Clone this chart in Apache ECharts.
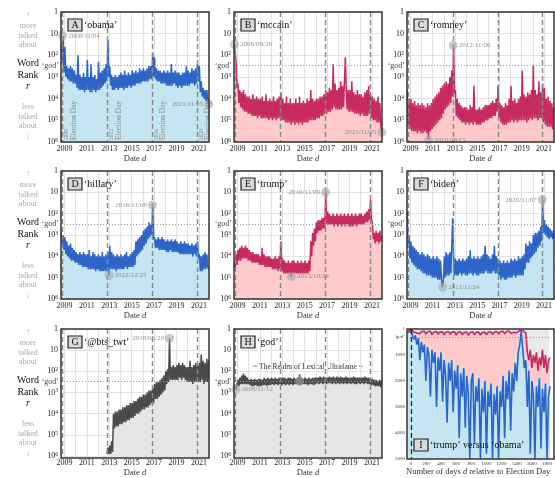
<!DOCTYPE html>
<html><head><meta charset="utf-8">
<script src="https://cdn.jsdelivr.net/npm/echarts@6/dist/echarts.min.js"></script>
<style>html,body{margin:0;padding:0;background:#fff}#c{width:555px;height:478px}</style>
</head><body><div id="c"></div>
<script>
// ---------------- DATA ----------------
// monthly samples, Sep 2008 .. Nov 2021 (159 months); values are log10(word rank)
const START_YEAR = 2008, START_MONTH = 9, N_MONTHS = 159;
const gridYears = [2009,2010,2011,2012,2013,2014,2015,2016,2017,2018,2019,2020,2021];
const yearLabels = [2009,2011,2013,2015,2017,2019,2021];
const electionDays = [2008.843, 2012.849, 2016.855, 2020.842];
const electionLabels = ['2008','2012','2016','2020'];
const GOD_RANK = 300;

const obamaLog = [
 1.5,2.4,1.1,2.8,
 1.6,3.0,2.5,3.1,2.6,3.2,2.5,3.2,2.6,3.3,2.7,3.3,
 2.9,3.5,2.0,3.6,2.9,3.6,3.0,3.6,2.8,3.7,3.0,3.6,
 2.2,3.6,3.0,3.7,2.4,3.7,3.0,3.6,2.9,3.7,3.1,3.6,
 2.3,3.6,2.8,3.5,2.7,3.4,2.6,3.3,2.4,3.2,1.3,3.0,
 2.5,3.4,2.9,3.6,3.0,3.6,2.9,3.5,3.0,3.6,2.9,3.5,
 2.8,3.5,2.9,3.6,2.7,3.5,2.9,3.5,2.8,3.4,2.9,3.5,
 2.7,3.4,2.8,3.4,2.7,3.3,2.8,3.3,2.6,3.3,2.7,3.2,
 2.6,3.2,2.7,3.2,2.6,3.2,2.5,3.1,2.5,3.1,1.9,3.0,
 2.1,3.1,2.6,3.2,2.7,3.2,2.7,3.3,2.8,3.3,2.7,3.3,
 2.8,3.4,2.7,3.4,2.8,3.4,2.4,3.4,2.8,3.3,2.7,3.4,
 2.8,3.5,2.8,3.4,2.9,3.5,2.8,3.4,2.8,3.4,2.5,3.4,
 2.7,3.4,2.8,3.3,2.6,3.3,2.7,3.4,2.6,3.3,2.4,3.2,
 2.5,3.7,3.2,3.9,3.5,4.0,3.6,4.1,3.6,4.1,4.25];
const mccainLog = [
 1.5,1.9,2.3,3.5,
 3.3,4.2,3.6,4.4,3.7,4.5,3.6,4.6,3.8,4.6,3.9,4.7,
 3.9,4.7,4.0,4.8,3.8,4.8,4.0,4.8,3.9,4.9,4.0,4.8,
 4.0,4.9,3.9,4.9,4.1,4.9,3.8,4.9,4.1,5.0,4.0,4.9,
 4.1,5.0,3.9,4.9,4.1,5.0,4.0,4.9,3.9,4.9,3.7,5.0,
 4.0,5.0,4.2,5.1,3.9,5.1,4.2,5.1,4.0,5.2,4.2,5.1,
 4.2,5.2,4.0,5.1,4.2,5.2,3.9,5.1,4.2,5.2,4.1,5.1,
 4.2,5.1,4.0,5.1,4.1,5.0,3.6,5.0,4.0,5.0,4.1,5.0,
 4.0,4.9,4.0,4.9,3.9,4.8,3.9,4.8,3.8,4.7,3.6,4.7,
 3.7,4.6,3.5,4.6,3.6,4.5,2.4,4.4,3.3,4.5,3.6,4.5,
 3.5,4.5,3.2,4.5,3.4,4.4,3.3,2.1,3.5,4.5,3.6,4.6,
 3.6,4.6,3.2,4.6,3.7,4.7,3.8,4.7,3.6,4.7,3.8,4.8,
 3.8,4.7,3.9,4.8,3.7,4.8,3.6,4.8,3.4,4.7,3.8,4.9,
 3.9,5.0,4.0,5.0,4.1,5.1,3.9,5.1,4.2,5.2,5.55];
const romneyLog = [
 3.6,5.3,4.0,5.4,
 4.0,5.5,4.2,5.5,4.1,5.5,4.3,5.6,4.2,5.5,4.3,5.6,
 4.2,5.6,4.3,5.5,4.4,5.6,4.2,5.9,4.3,5.5,4.2,5.4,
 4.0,5.3,3.9,5.2,3.8,5.1,3.7,5.0,3.5,4.9,3.4,4.7,
 3.3,4.5,3.2,4.4,3.3,4.3,3.0,4.2,2.7,3.9,1.55,3.8,
 3.6,4.8,4.0,4.9,4.2,5.0,4.3,5.1,4.4,5.1,4.4,5.2,
 4.4,5.1,4.5,5.2,4.3,5.1,4.4,5.2,3.4,5.1,4.5,5.2,
 4.5,5.2,4.4,5.2,4.5,5.1,4.4,5.1,4.3,5.0,4.3,5.0,
 4.3,4.9,4.2,4.9,4.1,4.8,4.2,4.8,4.0,4.6,3.4,4.9,
 4.2,5.1,4.3,5.2,4.4,5.2,4.2,5.2,4.3,5.1,4.0,5.1,
 3.4,5.0,4.1,5.1,4.0,5.0,4.2,5.1,4.0,5.0,3.9,5.0,
 2.7,5.0,3.8,5.0,3.9,5.1,3.7,5.0,3.8,4.9,3.6,5.0,
 2.45,4.9,3.6,4.9,3.8,5.0,3.2,4.9,3.7,4.9,3.3,5.1,
 3.5,5.2,4.0,5.3,3.9,5.3,4.1,5.3,4.2,5.4,4.4];
const hillaryLog = [
 2.9,3.5,3.0,3.7,
 3.1,3.9,3.3,4.0,3.5,4.1,3.4,4.2,3.6,4.2,3.7,4.3,
 3.8,4.3,3.9,4.4,3.8,4.4,3.9,4.5,3.8,4.5,3.9,4.5,
 3.9,4.6,3.7,4.6,4.0,4.6,3.8,4.6,3.9,4.7,4.0,4.6,
 3.9,4.7,4.0,4.7,3.8,4.7,4.0,4.7,3.9,4.7,3.8,4.9,
 3.5,4.6,3.8,4.6,3.9,4.6,4.0,4.7,3.9,4.6,4.0,4.6,
 3.9,4.6,4.0,4.6,3.9,4.5,3.8,4.6,4.0,4.5,3.9,4.5,
 3.8,4.5,3.7,4.4,3.3,4.0,3.2,3.9,3.1,3.8,3.0,3.7,
 2.8,3.5,2.7,3.4,2.6,3.2,2.4,3.1,2.5,3.0,1.6,3.2,
 3.1,3.6,3.2,3.6,3.1,3.7,3.2,3.7,3.1,3.7,3.2,3.7,
 3.3,3.8,3.2,3.8,3.3,3.7,3.2,3.8,3.3,3.8,3.2,3.8,
 3.3,3.8,3.4,3.9,3.3,3.9,3.4,3.9,3.3,3.9,3.4,3.9,
 3.4,3.9,3.5,3.9,3.4,4.0,3.5,3.9,3.4,4.0,3.3,4.1,
 3.9,4.7,4.0,4.7,3.9,4.6,3.8,4.6,3.9,4.5,4.6];
const trumpLog = [
 4.3,4.5,3.9,4.4,
 3.7,4.2,3.6,4.2,3.5,4.1,3.6,4.1,3.5,4.1,3.6,4.2,
 3.7,4.2,3.8,4.3,3.8,4.3,3.9,4.3,3.9,4.3,3.9,4.4,
 4.0,4.4,3.6,4.4,3.9,4.5,4.0,4.5,4.0,4.5,4.0,4.5,
 4.1,4.6,4.1,4.6,4.0,4.6,4.1,4.7,4.0,4.6,3.3,4.7,
 4.1,4.8,4.2,4.8,4.3,4.8,4.2,4.8,4.3,4.95,4.2,4.8,
 4.2,4.8,4.3,4.8,4.2,4.8,4.3,4.8,4.2,4.8,4.3,4.8,
 4.2,4.8,4.3,4.8,4.2,4.7,3.3,4.0,2.9,3.5,2.7,3.3,
 2.4,2.9,2.3,2.8,2.3,2.8,2.2,2.7,2.2,2.7,1.0,2.5,
 1.9,2.5,2.0,2.5,2.1,2.5,2.0,2.6,2.1,2.5,2.0,2.6,
 2.1,2.5,2.0,2.6,2.1,2.5,2.0,2.6,2.1,2.5,2.0,2.6,
 2.1,2.6,2.0,2.6,2.1,2.5,2.0,2.6,2.1,2.5,2.0,2.5,
 2.0,2.5,2.1,2.5,2.0,2.4,1.9,2.4,1.8,2.3,1.35,2.3,
 2.4,3.2,2.9,3.4,2.8,3.3,2.9,3.4,2.8,3.3,3.1];
const bidenLog = [
 1.9,3.6,3.0,4.1,
 3.3,4.3,3.5,4.4,3.6,4.5,3.7,4.6,3.8,4.6,3.9,4.7,
 3.8,4.8,3.9,4.8,4.0,4.9,3.9,4.9,4.0,4.9,4.1,5.0,
 4.0,5.0,4.1,5.0,4.0,5.1,4.1,5.1,4.2,5.1,5.45,5.1,
 4.0,5.0,3.8,4.9,3.9,4.9,3.8,4.8,3.6,2.2,4.0,4.9,
 4.1,4.9,4.2,4.9,4.1,4.8,4.2,4.9,4.1,4.8,4.2,4.9,
 4.1,4.9,4.0,4.8,3.7,4.8,4.1,4.9,4.0,4.8,4.1,4.9,
 4.0,4.9,4.1,4.8,4.0,4.8,3.9,4.8,3.5,4.7,3.9,4.8,
 4.0,4.8,4.1,4.8,3.9,4.7,3.5,4.8,4.0,4.8,4.1,4.9,
 4.2,5.1,4.3,5.0,4.2,5.1,4.3,5.1,4.2,5.0,4.3,5.0,
 4.1,5.0,4.2,4.9,4.1,5.0,4.2,4.9,4.0,4.9,4.1,4.9,
 4.0,4.9,3.9,4.6,3.4,4.3,3.5,4.3,3.3,4.1,3.4,4.0,
 3.0,3.9,2.9,3.8,2.9,3.6,2.8,3.5,2.6,3.3,1.35,2.9,
 2.3,3.0,2.5,3.1,2.6,3.2,2.7,3.1,2.8,3.2,2.9];
const btsLog = [
 null,null,null,null,
 null,null,null,null,null,null,null,null,null,null,null,null,
 null,null,null,null,null,null,null,null,null,null,null,null,
 null,null,null,null,null,null,null,null,null,null,null,null,
 null,null,null,null,null,null,null,null,null,5.9,5.6,5.9,
 5.5,5.9,5.3,5.8,4.0,4.7,3.9,4.6,3.9,4.6,3.8,4.5,
 3.8,4.5,3.7,4.4,3.7,4.4,3.6,4.3,3.6,4.3,3.5,4.2,
 3.5,4.2,3.4,4.1,3.4,4.0,3.3,4.0,3.2,3.9,3.2,3.8,
 3.1,3.8,3.1,3.7,3.0,3.7,2.9,3.6,2.9,3.5,2.8,3.5,
 2.6,3.3,2.5,3.3,2.5,3.2,2.4,3.1,2.3,3.0,2.2,2.9,
 2.0,2.6,1.9,2.5,0.45,2.4,1.8,2.4,1.7,2.4,1.8,2.4,
 1.7,2.4,1.6,2.3,1.7,2.4,1.6,2.3,1.7,2.4,1.8,2.5,
 1.8,2.5,1.5,2.5,1.8,2.6,1.7,2.5,1.6,2.5,1.7,2.5,
 1.6,2.5,1.2,2.4,1.5,2.6,1.6,2.5,1.4,2.5,1.5];
const godLog = [
 2.6,2.75,2.85,2.6,
 2.4,2.7,2.3,2.6,2.2,2.6,2.1,2.6,2.2,2.6,2.3,2.6,
 2.4,2.65,2.35,2.7,2.4,2.7,2.35,2.65,2.4,2.7,2.35,2.7,
 2.35,2.7,2.4,2.65,2.3,2.65,2.35,2.7,2.3,2.65,2.35,2.65,
 2.3,2.6,2.35,2.65,2.3,2.6,2.35,2.65,2.3,2.6,2.3,2.65,
 2.3,2.6,2.3,2.65,2.35,2.6,2.3,2.65,2.3,2.6,2.35,2.65,
 2.3,2.6,2.35,2.6,2.3,2.65,2.15,2.65,2.3,2.6,2.35,2.6,
 2.3,2.6,2.35,2.65,2.3,2.6,2.35,2.6,2.3,2.65,2.3,2.6,
 2.3,2.55,2.3,2.6,2.25,2.55,2.3,2.6,2.25,2.55,2.3,2.6,
 2.3,2.55,2.25,2.55,2.3,2.6,2.25,2.55,2.3,2.6,2.25,2.55,
 2.3,2.6,2.25,2.55,2.3,2.6,2.3,2.55,2.25,2.6,2.3,2.55,
 2.3,2.6,2.3,2.55,2.25,2.6,2.3,2.6,2.3,2.55,2.3,2.6,
 2.3,2.55,2.3,2.6,2.25,2.55,2.3,2.6,2.3,2.6,2.35,2.65,
 2.35,2.65,2.4,2.7,2.4,2.7,2.45,2.7,2.4,2.75,2.45];

// annotations: [decimal year, log10 rank, label]
const annObama = [[2008.84,1.1,'2008/11/04'],[2021.88,4.25,'2021/11/25']];
const annMccain = [[2008.74,1.5,'2008/09/26'],[2021.88,5.55,'2021/11/25']];
const annRomney = [[2012.85,1.55,'2012/11/06'],[2010.62,5.9,'2010/08/15']];
const annHillary = [[2016.85,1.6,'2016/11/08'],[2012.98,4.9,'2012/12/25']];
const annTrump = [[2016.86,1.0,'2016/11/09'],[2013.82,4.95,'2013/10/26']];
const annBiden = [[2020.85,1.35,'2020/11/07'],[2011.9,5.45,'2011/11/24']];
const annBts = [[2018.38,0.45,'2018/05/20']];
const annGod = [[2008.86,2.85,'2008/11/12'],[2014.53,2.45,'2014/07/12']];

// Panel I: rank vs days since election day (every 20 days from -40)
const DAY_START = -40, DAY_STEP = 20;
const obamaVsDays = [150,60,
 15,200,400,250,600,350,1200,500,900,600,
 2000,700,1000,2600,800,1300,900,3000,1100,1600,
 900,2800,1200,1800,3600,1300,2000,1200,3200,1600,
 2300,1400,4200,1700,2600,1500,3800,1800,2500,5000,
 2000,1700,4400,2200,2800,1900,5000,2300,3200,2000,
 4800,2400,3000,2100,5000,2500,3300,2200,5000,2400,
 3000,1800,4200,2000,2700,1600,3900,1700,2400,1300,
 2000,900,600,80,800,1500,1200,3000,1600,4800,
 2000,2600,5000,2200,3000,1900,4600,2300,3200,2100,
 5000,2600,2200];
const trumpVsDays = [120,70,
 10,60,120,80,150,90,180,100,140,90,
 200,110,160,90,220,120,150,100,200,120,
 170,110,230,130,160,100,210,120,180,110,
 240,130,170,110,220,140,190,120,250,140,
 180,110,220,130,170,120,240,140,190,120,
 220,130,170,110,210,130,180,100,200,120,
 160,90,190,110,150,80,170,100,130,70,
 140,80,50,25,60,90,150,900,1200,800,
 1500,1000,1300,900,1600,1100,1400,800,1500,1000,
 1700,1200,1100];
const dayTicks = [0,200,400,600,800,1000,1200,1400,1600,1800];
const rankTicksI = [1,1000,2000,3000,4000,5000];

// ---------------- STYLE / LAYOUT ----------------
const FONT = "'Liberation Serif','DejaVu Serif',serif";
const BLUE='#2d64c8', LBLUE='#c4e5f1', RED='#c72a60', LRED='#fecaca', GRAY='#4a4a4a', LGRAY='#e6e6e6';
const layout = {
  A:[61,12,148,130], B:[234,12,148,130], C:[407,12,147,130],
  D:[61,171,148,128], E:[234,171,148,128], F:[407,171,147,128],
  G:[61,329,148,129], H:[234,329,148,129], I:[407,329,147,130]
};
const annSide = {A:['right','left'],B:['right','left'],C:['right','right'],D:['left','right'],E:['left','right'],F:['left','right'],G:['left'],H:['right','right']};
const panels = [
  {k:'A', word:'‘obama’', data:obamaLog, line:BLUE, fill:LBLUE, ann:annObama},
  {k:'B', word:'‘mccain’', data:mccainLog, line:RED, fill:LRED, ann:annMccain},
  {k:'C', word:'‘romney’', data:romneyLog, line:RED, fill:LRED, ann:annRomney},
  {k:'D', word:'‘hillary’', data:hillaryLog, line:BLUE, fill:LBLUE, ann:annHillary},
  {k:'E', word:'‘trump’', data:trumpLog, line:RED, fill:LRED, ann:annTrump},
  {k:'F', word:'‘biden’', data:bidenLog, line:BLUE, fill:LBLUE, ann:annBiden},
  {k:'G', word:'‘@bts_twt’', data:btsLog, line:GRAY, fill:LGRAY, ann:annBts},
  {k:'H', word:'‘god’', data:godLog, line:GRAY, fill:LGRAY, ann:annGod}
];

const monthX = [];
for (let i=0;i<N_MONTHS;i++) monthX.push(START_YEAR + (START_MONTH-1+i+0.5)/12);
const dayX = [];
for (let i=0;i<obamaVsDays.length;i++) dayX.push(DAY_START + i*DAY_STEP);

const supFmt = v => { const e = Math.round(Math.log10(v)); return e===0?'1':(e===1?'10':'10{s|'+e+'}'); };
const plainFmt = v => String(Math.round(v));

const grids=[], xAxes=[], yAxes=[], series=[];
panels.forEach((p,idx)=>{
  const L = layout[p.k];
  grids.push({left:L[0], top:L[1], width:L[2], height:L[3], show:true, backgroundColor:'#fff', borderWidth:0});
  xAxes.push({gridIndex:idx, type:'value', min:2008.69, max:2021.9,
    axisLine:{show:false}, axisTick:{show:false}, splitLine:{show:false},
    axisLabel:{customValues:yearLabels, formatter:plainFmt, fontSize:8, color:'#222', margin:3, fontFamily:FONT},
    name:'Date {i|d}', nameLocation:'middle', nameGap:10,
    nameTextStyle:{fontSize:8.5, color:'#333', fontFamily:FONT, rich:{i:{fontStyle:'italic', fontSize:8.5, fontFamily:FONT, color:'#333'}}}});
  yAxes.push({gridIndex:idx, type:'log', logBase:10, min:1, max:1e6, inverse:true,
    axisLine:{show:false}, axisTick:{show:false},
    splitLine:{show:true, lineStyle:{color:'#e2e2e2', width:1}},
    axisLabel:{formatter:supFmt, fontSize:8, color:'#222', margin:3, fontFamily:FONT,
      rich:{s:{fontSize:5.5, verticalAlign:'top', fontFamily:FONT, color:'#222', padding:[0,0,3,0]}}}});
  series.push({type:'line', xAxisIndex:idx, yAxisIndex:idx, data:[], z:1, silent:true,
    markLine:{z:1, silent:true, symbol:['none','none'], label:{show:false}, animation:false,
      lineStyle:{color:'#e2e2e2', width:1, type:'solid'}, data:gridYears.map(y=>({xAxis:y}))}});
  series.push({type:'line', xAxisIndex:idx, yAxisIndex:idx, z:2, showSymbol:false, symbol:'none',
    data: monthX.map((x,i)=>[x, p.data[i]==null?null:Math.pow(10,p.data[i])]),
    lineStyle:{color:p.line, width:1.5}, areaStyle:{color:p.fill, opacity:1, origin:'end'}});
  const ml = electionDays.map(x=>({xAxis:x, lineStyle:{type:[5,3], color:'#888', width:1.4}, label:{show:false}}));
  ml.push({yAxis:GOD_RANK, lineStyle:{type:[1,2], color:'#999', width:1},
    label:{show:true, position:'start', formatter:'‘god’', fontSize:8, color:'#444', fontFamily:FONT, distance:2}});
  series.push({type:'line', xAxisIndex:idx, yAxisIndex:idx, data:[], z:3, silent:true,
    markLine:{z:3, silent:true, symbol:['none','none'], animation:false, data:ml}});
  series.push({type:'scatter', xAxisIndex:idx, yAxisIndex:idx, z:4, symbolSize:9,
    itemStyle:{color:'rgba(165,165,165,0.75)'},
    data:p.ann.map((a,j)=>({name:a[2], value:[a[0], Math.pow(10,a[1])],
      label:{show:true, position:annSide[p.k][j], formatter:'{b}', fontSize:7, color:'#777', fontFamily:FONT, distance:1}}))});
});

// Panel I
(function(){
  const idx = 8, L = layout.I;
  grids.push({left:L[0], top:L[1], width:L[2], height:L[3], show:true, backgroundColor:'#e9e9e9', borderWidth:0});
  xAxes.push({gridIndex:idx, type:'value', min:-50, max:1830,
    axisLine:{show:false}, axisTick:{show:false}, splitLine:{show:false},
    axisLabel:{customValues:dayTicks, formatter:plainFmt, fontSize:5, color:'#333', margin:2, fontFamily:FONT},
    name:'Number of days {i|d} relative to Election Day', nameLocation:'middle', nameGap:7,
    nameTextStyle:{fontSize:8.5, color:'#333', fontFamily:FONT, rich:{i:{fontStyle:'italic', fontSize:8.5, fontFamily:FONT, color:'#333'}}}});
  yAxes.push({gridIndex:idx, type:'value', min:1, max:5000, inverse:true,
    axisLine:{show:false}, axisTick:{show:false}, splitLine:{show:false},
    axisLabel:{customValues:rankTicksI, formatter:plainFmt, fontSize:5, color:'#333', margin:2, fontFamily:FONT}});
  const tData = dayX.map((d,i)=>[d, trumpVsDays[i]]);
  const oData = dayX.map((d,i)=>[d, obamaVsDays[i]]);
  // fill under the upper envelope of the dense obama curve (as the pixel-column fill of daily data does)
  const oEnv = dayX.map((d,i)=>[d, Math.min(obamaVsDays[Math.max(0,i-1)], obamaVsDays[i], obamaVsDays[Math.min(obamaVsDays.length-1,i+1)])]);
  series.push({type:'line', xAxisIndex:idx, yAxisIndex:idx, z:2, showSymbol:false, data:tData,
    lineStyle:{width:0}, areaStyle:{color:LRED, opacity:1, origin:'end'}});
  series.push({type:'line', xAxisIndex:idx, yAxisIndex:idx, z:2, showSymbol:false, data:oEnv,
    lineStyle:{width:0}, areaStyle:{color:LBLUE, opacity:1, origin:'end'}});
  series.push({type:'line', xAxisIndex:idx, yAxisIndex:idx, z:3, showSymbol:false, data:oData,
    lineStyle:{color:BLUE, width:1.6}});
  series.push({type:'line', xAxisIndex:idx, yAxisIndex:idx, z:3, showSymbol:false, data:tData,
    lineStyle:{color:RED, width:1.6}});
  series.push({type:'line', xAxisIndex:idx, yAxisIndex:idx, data:[], z:4, silent:true,
    markLine:{z:4, silent:true, symbol:['none','none'], animation:false, data:[
      {xAxis:0, lineStyle:{type:[5,3], color:'#222', width:1.3}, label:{show:false}},
      {yAxis:GOD_RANK, lineStyle:{type:[1,2], color:'#999', width:1},
       label:{show:true, position:'start', formatter:'‘god’', fontSize:5, color:'#444', fontFamily:FONT, distance:2}}]}});
})();

const chart = echarts.init(document.getElementById('c'));
chart.setOption({animation:false, backgroundColor:'#fff', grid:grids, xAxis:xAxes, yAxis:yAxes, series:series});

// ---------------- GRAPHICS (frames, labels) ----------------
const g = [];
Object.keys(layout).forEach(k=>{
  const L = layout[k];
  g.push({type:'rect', shape:{x:L[0], y:L[1], width:L[2], height:L[3]}, style:{fill:null, stroke:'#333', lineWidth:1.5}, z:100, silent:true});
});
const boxWord = panels.map(p=>[p.k,p.word]).concat([['I','‘trump’ versus ‘obama’']]);
boxWord.forEach(([k,w])=>{
  const L = layout[k];
  const bx = L[0]+7, by = (k==='I') ? L[1]+L[3]-20 : L[1]+7;
  g.push({type:'rect', shape:{x:bx, y:by, width:14, height:12}, style:{fill:'#d9d9d9', stroke:'#222', lineWidth:1.2}, z:101});
  g.push({type:'text', x:bx+7, y:by+6.5, style:{text:k, font:'10px '+FONT, fill:'#111', textAlign:'center', textVerticalAlign:'middle'}, z:102});
  g.push({type:'text', x:bx+16, y:by+6, style:{text:w, font:'10px '+FONT, fill:'#111', textAlign:'left', textVerticalAlign:'middle'}, z:102});
});
// left margin labels
[12,171,329].forEach(T=>{
  const d = T-12;
  const gray = [['↑',15],['more',26],['talked',35.5],['about',45],['less',107],['talked',116.5],['about',126],['↓',137]];
  gray.forEach(([t,y])=>g.push({type:'text', x:28, y:y+d, style:{text:t, font:'8px '+FONT, fill:'#aaa', textAlign:'center', textVerticalAlign:'middle'}}));
  [['Word',63],['Rank',75]].forEach(([t,y])=>g.push({type:'text', x:28, y:y+d, style:{text:t, font:'10px '+FONT, fill:'#111', textAlign:'center', textVerticalAlign:'middle'}}));
  g.push({type:'text', x:28, y:86+d, style:{text:'r', font:'italic 10px '+FONT, fill:'#111', textAlign:'center', textVerticalAlign:'middle'}});
});
// panel H realm texts
const LH = layout.H;
g.push({type:'text', x:LH[0]+LH[2]/2, y:LH[1]+38, style:{text:'~ The Realm of Lexical Ultrafame ~', font:'7.5px '+FONT, fill:'#333', textAlign:'center', textVerticalAlign:'middle'}});
g.push({type:'text', x:LH[0]+LH[2]/2, y:LH[1]+114, style:{text:'~ The Lexical Abyss ~', font:'7.5px '+FONT, fill:'#333', textAlign:'center', textVerticalAlign:'middle'}});
// election-day labels in panel A
electionDays.forEach((x,i)=>{
  const p = chart.convertToPixel({gridIndex:0}, [x, 1e6]);
  g.push({type:'text', x:p[0]+4, y:p[1]-2, rotation:Math.PI/2, style:{text:electionLabels[i], font:'5.5px '+FONT, fill:'#888', textAlign:'left', textVerticalAlign:'middle'}, z:50});
  g.push({type:'text', x:p[0]+11, y:p[1]-2, rotation:Math.PI/2, style:{text:'Election Day', font:'7.5px '+FONT, fill:'#888', textAlign:'left', textVerticalAlign:'middle'}, z:50});
});
chart.setOption({graphic:g});
</script>
</body></html>
